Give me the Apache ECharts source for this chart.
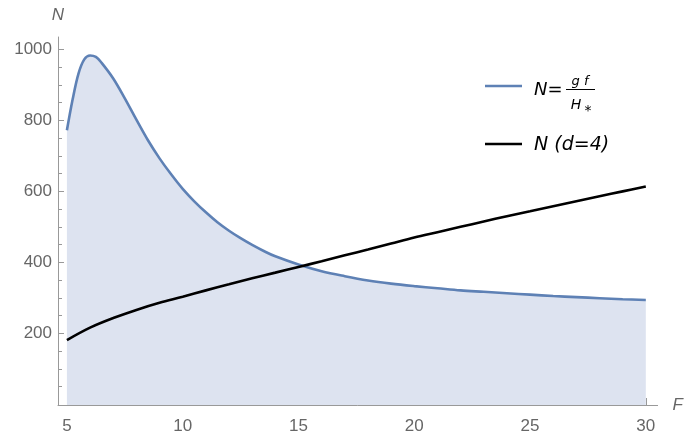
<!DOCTYPE html>
<html><head><meta charset="utf-8">
<script src="https://cdn.jsdelivr.net/npm/echarts@6/dist/echarts.min.js"></script>
<style>html,body{margin:0;padding:0;background:#fff}#c{width:686px;height:435px}</style>
</head><body><div id="c"></div>
<script>
const blueX = [5, 5.25, 5.5, 5.75, 6, 6.25, 6.5, 7, 7.5, 8, 8.5, 9, 9.5, 10, 10.5, 11, 11.5, 12, 12.5, 13, 13.5, 14, 15, 16, 17, 18, 19, 20, 21, 22, 23, 24, 25, 26, 27, 28, 29, 30];
const blueY = [772, 860, 932, 972, 983, 979, 962, 918, 862, 802, 744, 693, 648, 607, 572, 541, 513, 489, 468, 449, 432, 417, 394, 375, 361, 349, 340, 333, 327, 321, 317, 313, 309, 305, 302, 299, 296, 294];
const blackX = [5, 6, 7, 8, 9, 10, 11, 12, 13, 14, 15, 16, 17, 18, 19, 20, 21, 22, 23, 24, 25, 26, 27, 28, 29, 30];
const blackY = [181, 216, 243, 266, 286, 303, 321, 338, 355, 371, 387, 403, 420, 436, 453, 470, 485, 500, 515, 530, 544, 558, 572, 586, 600, 614];
const xMajorTicks = [5, 10, 15, 20, 25, 30];
const xMinorTicks = [6, 7, 8, 9, 11, 12, 13, 14, 16, 17, 18, 19, 21, 22, 23, 24, 26, 27, 28, 29];
const yMajorTicks = [200, 400, 600, 800, 1000];
const yMinorTicks = [50, 100, 150, 250, 300, 350, 450, 500, 550, 650, 700, 750, 850, 900, 950];
const seriesNames = ['N=gf/H*', 'N (d=4)'];

const AX = '#999999', LBL = '#666666', FONT = 'Liberation Sans';
const LFONT = '"DejaVu Sans"';
const chart = echarts.init(document.getElementById('c'), null, {renderer: 'canvas'});
const xmin = 4.615, xmax = 30.51, ymin = -2, ymax = 1035;

function xAxisBase(extra) {
  return Object.assign({
    type: 'value', min: xmin, max: xmax, position: 'bottom',
    splitLine: {show: false}, axisLine: {show: false}, axisLabel: {show: false},
    axisTick: {show: false}
  }, extra);
}
function yAxisBase(extra) {
  return Object.assign({
    type: 'value', min: ymin, max: ymax, position: 'left',
    splitLine: {show: false}, axisLine: {show: false}, axisLabel: {show: false},
    axisTick: {show: false}
  }, extra);
}

chart.setOption({
  animation: false,
  backgroundColor: '#fff',
  textStyle: {fontFamily: FONT},
  grid: {left: 58, right: 23, top: 37, bottom: 30, containLabel: false},
  xAxis: [
    xAxisBase({
      axisLine: {show: true, onZero: false, lineStyle: {color: AX, width: 1}},
      axisTick: {show: true, inside: true, length: 7, customValues: xMajorTicks, lineStyle: {color: AX}},
      axisLabel: {show: true, customValues: xMajorTicks, color: LBL, fontSize: 17, margin: 13, fontFamily: FONT, formatter: v => String(v)},
      name: 'F', nameLocation: 'end', nameGap: 15,
      nameTextStyle: {fontStyle: 'italic', color: LBL, fontSize: 17, fontFamily: FONT, verticalAlign: 'middle', align: 'left'}
    }),
    xAxisBase({
      axisTick: {show: true, inside: true, length: 4, customValues: xMinorTicks, lineStyle: {color: AX}}
    })
  ],
  yAxis: [
    yAxisBase({
      axisLine: {show: true, onZero: false, lineStyle: {color: AX, width: 1}},
      axisTick: {show: true, inside: true, length: 6, customValues: yMajorTicks, lineStyle: {color: AX}},
      axisLabel: {show: true, customValues: yMajorTicks, color: LBL, fontSize: 17, margin: 6, fontFamily: FONT, formatter: v => String(v)},
      name: 'N', nameLocation: 'end', nameGap: 13,
      nameTextStyle: {fontStyle: 'italic', color: LBL, fontSize: 17, fontFamily: FONT, align: 'center'}
    }),
    yAxisBase({
      axisTick: {show: true, inside: true, length: 4, customValues: yMinorTicks, lineStyle: {color: AX}}
    })
  ],
  series: [
    {
      name: seriesNames[0], type: 'line', xAxisIndex: 0, yAxisIndex: 0,
      data: blueX.map((x, i) => [x, blueY[i]]),
      showSymbol: false, smooth: 0.35,
      lineStyle: {color: 'rgb(94,129,181)', width: 2.6},
      areaStyle: {color: 'rgb(221,227,240)', opacity: 1, origin: 'start'},
      z: 2
    },
    {
      name: seriesNames[1], type: 'line', xAxisIndex: 0, yAxisIndex: 0,
      data: blackX.map((x, i) => [x, blackY[i]]),
      showSymbol: false, smooth: 0.35,
      lineStyle: {color: '#000', width: 2.6},
      z: 3
    }
  ],
  graphic: [
    {type: 'line', shape: {x1: 485, y1: 86, x2: 522, y2: 86}, style: {stroke: 'rgb(94,129,181)', lineWidth: 2.6}},
    {type: 'text', x: 534, y: 90, style: {text: 'N=', font: 'oblique 18px ' + LFONT, fill: '#000', verticalAlign: 'middle', align: 'left'}},
    {type: 'line', shape: {x1: 566, y1: 89.5, x2: 595, y2: 89.5}, style: {stroke: '#000', lineWidth: 1}},
    {type: 'text', x: 580, y: 88, style: {text: 'g f', font: 'oblique 13px ' + LFONT, fill: '#000', verticalAlign: 'bottom', align: 'center'}},
    {type: 'text', x: 576, y: 105, style: {text: 'H', font: 'oblique 14px ' + LFONT, fill: '#000', verticalAlign: 'middle', align: 'center'}},
    {type: 'text', x: 588, y: 111, style: {text: '*', font: '14px ' + LFONT, fill: '#000', verticalAlign: 'middle', align: 'center'}},
    {type: 'line', shape: {x1: 485, y1: 144, x2: 522, y2: 144}, style: {stroke: '#000', lineWidth: 2.6}},
    {type: 'text', x: 534, y: 145, style: {text: 'N (d=4)', font: 'oblique 19px ' + LFONT, fill: '#000', verticalAlign: 'middle', align: 'left'}}
  ]
});
</script>
</body></html>
